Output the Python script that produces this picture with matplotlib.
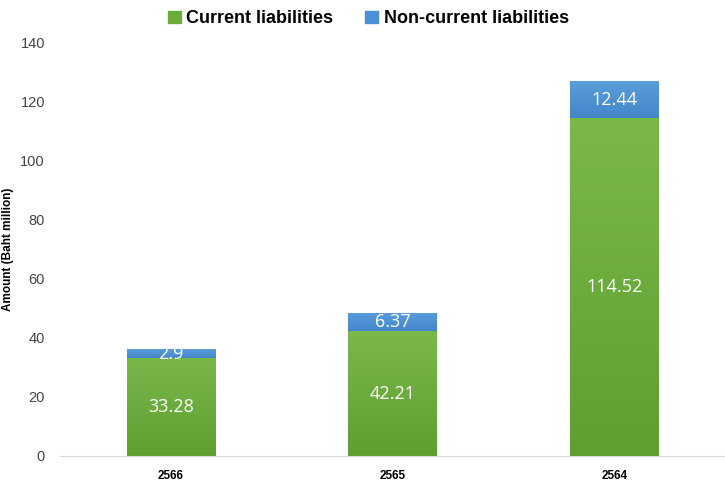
import matplotlib
matplotlib.use("Agg")
import matplotlib.pyplot as plt
import numpy as np
from matplotlib.colors import LinearSegmentedColormap
from matplotlib.patches import Patch

plt.rcParams["font.family"] = ["Liberation Sans", "DejaVu Sans"]

years = ["2566", "2565", "2564"]
current = [33.28, 42.21, 114.52]
non_current = [2.9, 6.37, 12.44]

green_cmap = LinearSegmentedColormap.from_list("g", ["#5e9f30", "#7ab84a"])
blue_cmap = LinearSegmentedColormap.from_list("b", ["#4387ca", "#5b9dda"])


def gradient_fill(ax, bars, cmap):
    grad = np.linspace(0, 1, 256).reshape(-1, 1)
    for bar in bars:
        x0, y0 = bar.get_x(), bar.get_y()
        w, h = bar.get_width(), bar.get_height()
        im = ax.imshow(grad, extent=[x0, x0 + w, y0, y0 + h], origin="lower",
                       aspect="auto", cmap=cmap, zorder=bar.get_zorder())
        im.set_clip_path(bar)
        bar.set_facecolor("none")


fig = plt.figure(figsize=(7.25, 4.83), dpi=100)
ax = fig.add_axes([0.083, 0.056, 0.917, 0.855])

x = np.arange(len(years))
b1 = ax.bar(x, current, width=0.4, color="#6aab3a", label="Current liabilities", zorder=2)
b2 = ax.bar(x, non_current, width=0.4, bottom=current, color="#4a90d9",
            label="Non-current liabilities", zorder=2)
gradient_fill(ax, b1, green_cmap)
gradient_fill(ax, b2, blue_cmap)

for i in range(len(years)):
    ax.text(x[i], current[i] / 2, f"{current[i]:g}", ha="center", va="center",
            color="white", fontsize=13, family="Open Sans", zorder=3)
    ax.text(x[i], current[i] + non_current[i] / 2, f"{non_current[i]:g}", ha="center",
            va="center", color="white", fontsize=13, family="Open Sans", zorder=3)

ax.set_xlim(-0.5, 2.5)
ax.set_ylim(0, 140)
ax.set_yticks(range(0, 141, 20))
ax.set_xticks(x)
ax.set_xticklabels(years, fontweight="bold", fontsize=8.5)
ax.tick_params(axis="y", colors="#444444", labelsize=10.5, length=0, pad=11)
ax.tick_params(axis="x", length=0, pad=10)
for side in ["top", "right", "left"]:
    ax.spines[side].set_visible(False)
ax.spines["bottom"].set_color("#d9d9d9")
ax.set_ylabel("Amount (Baht million)", fontweight="bold", fontsize=8.5)
ax.yaxis.set_label_coords(-0.069, 0.5)

handles = [Patch(color="#6aab3a"), Patch(color="#4a90d9")]
fig.legend(handles, ["Current liabilities", "Non-current liabilities"], loc="upper center",
           bbox_to_anchor=(0.508, 1.012), ncol=2, frameon=False, handlelength=0.7,
           handleheight=0.7, handletextpad=0.3, columnspacing=1.8,
           prop={"weight": "bold", "size": 13})

fig.savefig("out.png", dpi=100)
